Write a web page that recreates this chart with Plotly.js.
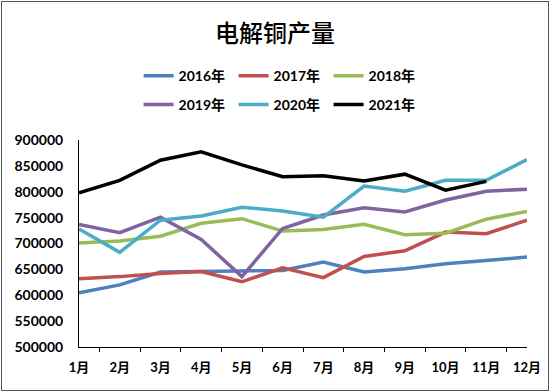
<!DOCTYPE html>
<html><head><meta charset="utf-8">
<script src="https://cdn.plot.ly/plotly-3.0.1.min.js"></script>
<style>body{margin:0;padding:0;background:#fff}#wrap{position:relative;width:550px;height:392px}#chart{width:550px;height:392px}#frame{position:absolute;left:1px;top:1px;width:546px;height:388px;border:1px solid #555;pointer-events:none}</style>
</head><body><div id="wrap"><div id="chart"></div><div id="frame"></div></div>
<script>
const months = ['1月','2月','3月','4月','5月','6月','7月','8月','9月','10月','11月','12月'];
const y2016 = [605000,620000,645000,646000,648000,648000,664000,645000,651000,661000,667000,674000];
const y2017 = [632000,636000,642000,646000,626000,653000,634000,675000,686000,722000,719000,745000];
const y2018 = [701000,705000,714000,739000,748000,724000,727000,737000,717000,720000,747000,762000];
const y2019 = [737000,721000,751000,708000,636000,729000,755000,769000,761000,784000,801000,805000];
const y2020 = [728000,683000,745000,753000,770000,763000,751000,811000,801000,822000,822000,862000];
const y2021 = [798000,822000,861000,877000,852000,829000,831000,821000,834000,803000,820000];
const names = ['2016年','2017年','2018年','2019年','2020年','2021年'];
const colors = ['#4F81BD','#C0504D','#9BBB59','#8064A2','#4BACC6','#000000'];
const series = [y2016,y2017,y2018,y2019,y2020,y2021];
const FONT = "Lato, 'Noto Sans CJK SC', sans-serif";
const traces = series.map((s,i)=>({
  type:'scatter', mode:'lines', x: months.slice(0,s.length), y: s, name: names[i],
  line:{color:colors[i], width:3.5}, legend: i<3 ? 'legend' : 'legend2'
}));
const legBase = {orientation:'h', xanchor:'left', yanchor:'middle', font:{family:FONT,size:14,color:'#000',weight:'bold'}, bgcolor:'rgba(0,0,0,0)', itemwidth:30, tracegroupgap:0, entrywidth:50, entrywidthmode:'pixels'};
const layout = {
  width:550, height:392,
  margin:{l:79, r:23, t:140, b:45},
  paper_bgcolor:'#fff', plot_bgcolor:'#fff',
  title:{text:'电解铜产量', x:0.5, xanchor:'center', y:0.915, yanchor:'middle', font:{family:"'Noto Sans CJK SC', sans-serif", size:24, color:'#000', weight:500}},
  xaxis:{type:'category', showline:true, linecolor:'#000', linewidth:1, ticks:'outside', tickson:'boundaries', ticklen:4, tickcolor:'#000', showgrid:false, zeroline:false, tickfont:{family:FONT,size:13,color:'#000',weight:'bold'}, ticklabelstandoff:8},
  yaxis:{range:[500000,900000], dtick:50000, tickformat:'d', showline:true, linecolor:'#000', linewidth:1, ticks:'', showgrid:false, zeroline:false, tickfont:{family:FONT,size:14,color:'#000',weight:'bold'}, ticklabelstandoff:12},
  legend: Object.assign({}, legBase, {x:0.133, y:1.309}),
  legend2: Object.assign({}, legBase, {x:0.133, y:1.17}),
  showlegend:true
};
Plotly.newPlot('chart', traces, layout, {displayModeBar:false, staticPlot:true});
</script></body></html>
